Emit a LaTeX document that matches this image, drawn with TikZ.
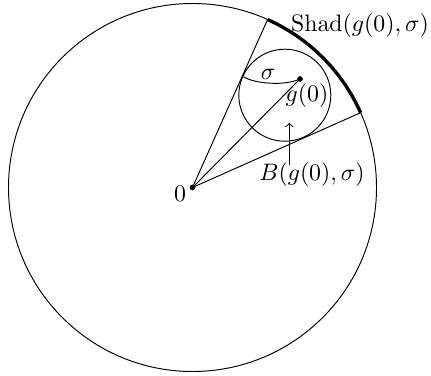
\documentclass[tikz,border=0pt]{standalone}
\usetikzlibrary{calc}
\begin{document}
\begin{tikzpicture}[x=0.42pt,y=-0.42pt,
  lbl/.style={inner sep=0pt},
  thin line/.style={line width=0.4pt},
  dot/.style={circle,fill=black,inner sep=0pt,minimum size=2.4pt}]
\useasboundingbox (0,0) rectangle (431,375);
\def\R{184}
\node[dot] (O) at (192.5,187.5) {};
\coordinate (T1) at (267.6,19.5);
\coordinate (T2) at (360.6,112.7);
\node[dot] (g) at (300,79) {};
\coordinate (S) at (243.3,76.7);
% big circle
\draw[thin line] (O.center) circle[radius=\R];
% thick shadow arc
\draw[line width=1.4pt] (T2) arc[start angle=-24, end angle=-65.9, radius=\R];
% small circle (ball)
\draw[thin line] (284.8,95.2) circle[radius=46];
% lines from origin
\draw[thin line] (O.center) -- (T1);
\draw[thin line] (O.center) -- (T2);
\draw[thin line] (O.center) -- (g.center);
% sigma arc
\draw[thin line] (S) .. controls (255,84) and (285,86) .. (g.center);
% labels
\node[lbl] (l0) at (180,194) {$0$};
\node[lbl] (lg) at (307,96) {$g(0)$};
\node[lbl] (ls) at (268,74) {$\sigma$};
\node[lbl] (lshad) at (360,26) {$\mathrm{Shad}(g(0),\sigma)$};
\node[lbl] (lB) at (312,175) {$B(g(0),\sigma)$};
\coordinate (Ab) at (289.3,165);
\coordinate (At) at (289.3,122.7);
\draw[thin line,->] (Ab) -- (At);
\end{tikzpicture}
\end{document}
